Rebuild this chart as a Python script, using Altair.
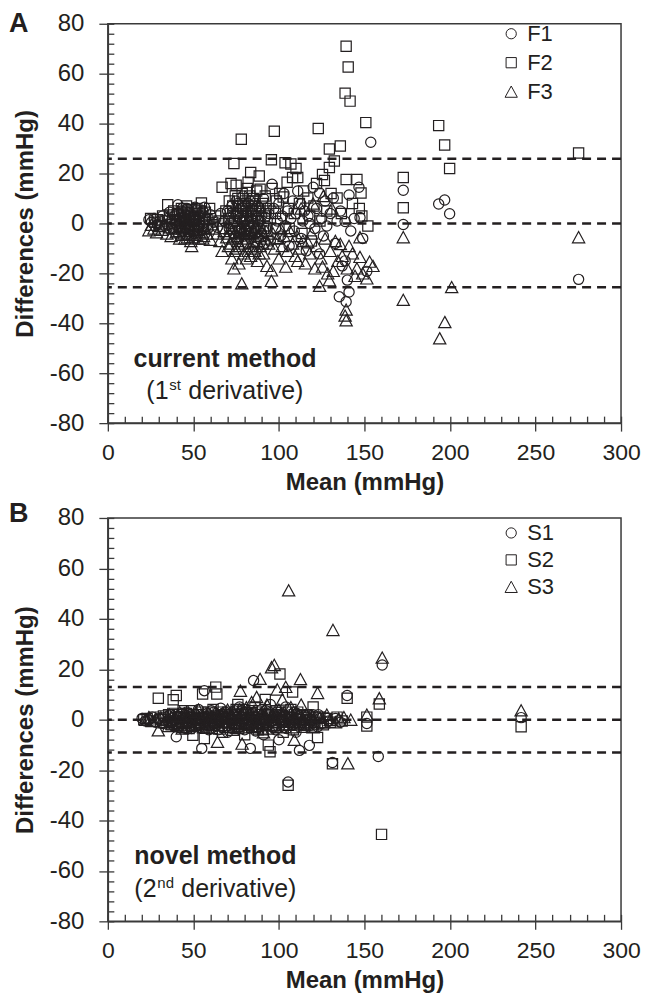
import altair as alt
import pandas as pd

# ---------------- Panel A : current method (1st derivative) ----------------
a_f1 = [
    (24, 1.5), (25.5, 0.5), (27, 2), (29, -0.5), (30.5, 1), (32, 3), (33.5, -1), (35, 2), (36, 4.5), (37, 0),
    (38, -2), (39, 3), (40, 1), (41, 7.5), (41.5, -1), (42.5, 2.5), (43, 5), (44, -3), (44.5, 1), (45.5, 3.5),
    (46, -0.5), (46.5, 6), (47.5, 2), (48, -2.5), (48.5, 4), (49.5, 0.5), (50, 3), (50.5, -4), (51.5, 1.5), (52, 5.5),
    (53, -1.5), (53.5, 2.5), (54.5, 4), (55, -3), (55.5, 0), (56.5, 6.5), (57.5, 1), (58.5, -2), (60, 3.5), (62, 0.5),
    (64, -1.5), (66, 4), (68, 1), (70, 5), (71, -2), (72, 2.5), (72.5, 7), (73.5, -4), (74, 1), (75, 9),
    (75.5, -1), (76, 4), (76.5, -6), (77, 2), (77.5, 6), (78, -2.5), (78.5, 0.5), (79, 11), (79.5, 3), (80, -5),
    (80.5, 7), (81, 1.5), (81.5, -8), (82, 4.5), (82.5, -1), (83, 9), (83.5, 2), (84, -3.5), (84.5, 5.5), (85, 0),
    (86, 8), (86.5, -2), (87, 3), (88, -6), (88.5, 6), (89, 1), (90, -4), (91, 10), (92, 2.5), (93, -1),
    (94, 4), (95, -7), (96, 15.7), (97, 6), (98, -2), (99, 1), (100, 8), (101, -5), (102, 3), (103, 12),
    (104, -1), (105, 5), (106, -9), (107, 2), (108, 9), (109, -3), (110, 4), (111, 13), (112.8, 7.8), (113, -6),
    (114, 1), (115, 5), (116, -11), (117, 3), (118, 0), (120, 14.5), (121, -2), (122, 6), (123.8, 12.2), (123.8, -12.2),
    (125, 2), (126, -5), (127, 9), (128, -1), (130, 4), (131.8, 10.2), (133, -8), (134, 1), (135.3, -29.4), (136, 5),
    (137, -17), (138.7, 0.8), (138.7, -15), (139.3, -31.4), (140, -22.7), (141, 11.4), (141, -27.5), (142, -3), (144, 2), (146.8, 14.5),
    (147.4, 2.4), (149, -6), (151.4, -19.2), (153.7, 32.5), (172.7, 13.3), (172.7, -0.4), (193.4, 7.8), (196.9, 9.4), (199.8, 3.9), (275.2, -22.4),
    (40.5, 4), (42, -2), (43.5, 6), (45, -1.5), (46, 2), (47, 4.5), (49, -1), (50.5, 1), (51, 6.5), (52.5, -3),
    (54, 3), (55.5, 5), (56, -2), (71.5, 0), (73, 4.5), (74.5, -2), (76, 8), (77.5, -4), (79, 6), (80, 1),
    (81, -3), (82, 8), (83.5, -6), (85, 4), (86, -4), (87.5, 7), (89, -2), (90, 3), (91.5, -8),
]
a_f2 = [
    (25, 2), (27.5, 0.5), (29, 1.5), (30, -1), (32, 3), (34, 1), (35, 7.5), (36, 2.5), (37.5, -0.5), (38.5, 5),
    (39.5, 1.5), (40.5, 3.5), (42, -1.5), (43, 6), (43.5, 2), (44.5, 4.5), (45, 0), (46, 7), (47, -2), (47.5, 3),
    (48.5, 1), (49, 5.5), (50, -0.5), (51, 2.5), (52, 6), (52.5, -2.5), (53.5, 1), (54.7, 8.2), (55.5, 3), (56, -1),
    (57, 4.5), (58, 1.5), (59.5, 6), (61, -0.5), (63, 3), (65, 1), (66.8, 14.5), (67.5, -2), (69, 5), (70.5, 2),
    (71, 9), (72, 16), (72.5, -1), (73.7, 24), (74.5, 11), (75, 15.3), (75.5, 4), (76.5, 7), (77, -3), (78, 33.7),
    (78.5, 12), (79, 1), (79.5, 6), (80, -2), (80.5, 9), (81, 3), (81.5, 14), (82, 16.5), (82.5, -4), (83.5, 20.4),
    (84, 7), (84.5, 1), (85, 10), (85.5, -1.5), (86.5, 5), (87, 13), (88, 2), (88.5, 19), (89, 13.7), (89.5, -5),
    (90.5, 8), (91.5, 3), (92, 11), (93, -3), (94, 6), (95.6, 25.5), (96, 14), (97.3, 36.9), (98, 4), (98.5, 9),
    (99.5, -6), (100.5, 12), (101, 2), (102.5, 10.6), (103.6, 24.3), (104.8, 16.5), (105.5, 6), (106, -2), (107, 23.8), (108, 18.4),
    (109, 4), (110, 22), (111, 18.4), (112, 8), (113.5, -4), (114.5, 13), (116.9, 10.2), (118, 3), (119, -7), (120.5, 7),
    (122, 16), (123, 38), (124, 1), (125.5, 19.6), (126.6, 17.2), (128, 5), (129.5, 22.4), (129.5, 29.8), (130.5, 12), (132.4, 25),
    (134, 10.2), (135.9, 31), (136.5, 4), (138.7, 52.2), (139.3, 71), (139.3, 17.6), (140.5, 62.7), (141.6, 49), (143, 8), (145.6, 17.6),
    (147, 6), (148, 12.2), (148.5, 3), (150.8, 40.4), (152, -1), (172.7, 18.4), (172.7, 6.3), (193.4, 39.2), (196.9, 31.4), (199.8, 22),
    (275.2, 28.2),
    (41, 4), (42.5, 1), (44, 3), (45.5, -1), (47, 5), (49.5, 2), (51, 4), (53, -1), (54, 5), (56.5, 2),
    (71.5, 4), (73, 7), (74, 1), (76, 10), (77.5, 3), (79, 8), (80.5, 5), (82, -1), (83, 11), (84, 3),
    (86, 9), (87.5, 1), (89, 6), (91, -2), (92.5, 5),
]
a_f3 = [
    (24, -2.7), (25.5, -0.5), (27, -2), (28.5, -3.5), (30, -1), (31.5, -2.5), (33, 0), (34.5, -4), (36, -1.5), (37, -5),
    (38.5, -2), (40, -3.5), (41, 0.5), (42, -6), (43.5, -2), (44.5, -4), (45.5, -1), (46.5, -5.5), (47.5, -3), (48.5, -7),
    (49, -9), (50, -1.5), (51, -4.5), (52, -2.5), (53, -6), (54, -1), (55, -3.5), (56, -5), (57, -2), (58, -4),
    (60, -6.5), (62, -2), (64, -4), (65.5, -7), (66.8, -11), (68, -3), (69.5, -5.5), (70.5, -9), (71.5, -2), (72.5, -14),
    (73, -6), (73.7, -18), (74.5, -3.5), (75, -10), (76, -7), (76.6, -16), (77.5, -1.5), (78.3, -24), (79, -4), (79.5, -12),
    (80.5, -6), (81, -14), (81.5, -2.5), (82.5, -9), (83.5, -13), (84, -4), (85, -7.5), (86, -11), (86.5, -2), (87.5, -15),
    (88, -5), (89, -9), (90, -3), (91, -12), (92, -6), (93, -17), (94, -8), (95.6, -18.8), (95.6, -23), (96.5, -4),
    (97.5, -10), (99, -6), (100, -14), (101, -2), (102, -9), (103, -5), (104, -17.3), (105, -11), (106.5, -3), (108, -8),
    (109.5, -13), (110.5, -5), (111, -15), (112, -10), (113, 6), (114, -7), (115.5, -16), (116.9, -7.5), (118, -12), (119, -4),
    (120, 8), (121, -18), (122, -9), (123.8, -25), (124.5, -14), (125.5, -17.3), (126, 11), (127, -6), (128.5, -20), (129.5, -22.7),
    (130, -11), (131, 6), (131.8, -19), (133, -7), (134.5, -15), (135.9, -8.2), (137, -13), (138.7, -36.9), (139.3, -34.5), (139.3, -38.8),
    (140, -18), (141, -9), (143, -12), (144.5, -21), (145.6, -18), (147.4, -5.5), (147.4, -13.4), (149, -20), (151.4, -22), (153, -15.3),
    (155, -17), (172.7, -5.5), (172.7, -30.6), (194, -46), (197, -39.5), (201, -25.5), (275.2, -5.5),
    (41.5, -3), (43, -4.5), (44, -1.5), (45, -6), (47, -1), (48, -4), (50, -5.5), (51.5, -2), (53.5, -3.5), (55.5, -6),
    (71, -4), (72, -8), (74, -11), (75.5, -5), (77, -9), (78.5, -3), (80, -8), (81, -4), (82, -11), (84.5, -10),
    (85.5, -3), (87, -7), (88.5, -12), (90.5, -8), (92.5, -3),
]

# ---------------- Panel B : novel method (2nd derivative) ----------------
b_s1 = [
    (20, 0.5), (22, -0.5), (24, 0), (26, 1), (28, -1), (30, 0.5), (32, -1.5), (33.5, 1), (35, -0.5), (36.5, 2),
    (38, -2), (39, 0), (40, -6.8), (41, 1.5), (42, -1), (43, 2.5), (44, -2.5), (45, 0.5), (46, 3), (47, -1),
    (48, 1), (49, -3.5), (50, 0), (51, 2), (52, -1.5), (53, 4), (54, -0.5), (54.9, -11.4), (55.5, 1), (56.4, 11.5),
    (57, -2), (58, 2.5), (59, -4), (60, 0.5), (61, -1), (62, 3), (63, -2.5), (64, 1), (65, -0.5), (66, 4.5),
    (67, -3), (68, 1.5), (69, -1), (70, -5), (71, 2), (72, 0), (73, -1.5), (74, 3.5), (75, -3), (76, 1),
    (77, 5), (78, -1), (79, 2), (80, -4), (81, 0.5), (82, 3), (83.3, -11.4), (84, -2), (85.2, 15.5), (86, 1),
    (87, -3), (88, 2), (89, -1), (90, 4), (91, -6), (92, 0), (93, 2.5), (94, -2), (95, 6), (96, -0.5),
    (97, 1.5), (98, -4), (99, 3), (100, -8), (101, 0), (102, 2), (103, -3), (104, 5), (105.4, -24.7), (106, -1),
    (107, 1), (108, -2), (109, 3), (110, -5), (111, 0.5), (112, -12.2), (113, 2), (114, -1), (116, 1), (117.8, -10.2),
    (119, -0.5), (120, 2), (121, -2), (122.6, -2.8), (124, 0.5), (125, -1.5), (127, 1), (129, -0.5), (131.3, -17), (133, 0.5),
    (136, -1), (139.9, 9.6), (151.4, -1.5), (158.1, -14.6), (160.4, 21.7), (241.6, 0.8),
    (35.5, 1.5), (37.5, -1), (39.5, 2), (41.5, -3), (43.5, 0), (45.5, -1.5), (47.5, 2.5), (49.5, 1), (51.5, -0.5), (53.5, -3),
    (56, 2), (58.5, -1), (60.5, 3.5), (62.5, -1.5), (64.5, -4), (66.5, 0), (68.5, 3), (70.5, 1), (72.5, -3.5), (74.5, 1.5),
    (76.5, -2), (78.5, 3.5), (80.5, -1.5), (82.5, 0), (84.5, 2.5), (86.5, -4.5), (88.5, 0.5), (90.5, -2.5), (92.5, 3.5), (94.5, 0),
    (96.5, -3), (98.5, 1), (100.5, 3), (102.5, -1), (104.5, -3.5), (106.5, 2), (108.5, 0), (110.5, 2.5), (112.5, -2), (115, 0),
    (118, -2.5), (123, 2),
]
b_s2 = [
    (21, 0), (23, 0.5), (25, -0.5), (27, 1), (29.5, 8.5), (31, 0), (32.5, 1.5), (34, -1), (35.5, 2), (37, -2),
    (38.2, 7.9), (39.5, 1), (40, 9.6), (41, -1.5), (42, 2), (43.5, -3), (44.5, 0.5), (46, 2.5), (47, -1), (48, 1),
    (49, 3.5), (49.7, -6.2), (51, 0), (52, -2), (53, 2), (54, -1), (55.4, 10.2), (56.4, -7.5), (57.5, 0.5), (58.5, 3),
    (59.5, -2), (60.5, 1), (61.5, 4), (62.5, -1), (63.1, 12.9), (63.7, 10.2), (65, -2.5), (66, 0.5), (67, -5), (68, 2),
    (69, -1), (70, 3), (71, -3), (72, 0), (73, 1.5), (74, -2), (75, 4), (76, 6), (77, -1.5), (78, 1),
    (79, 4), (80, -6), (81, -0.5), (82, 2), (83, 0), (84, -3), (85, 1), (86, 5), (87, -1), (88, -4),
    (89, 2), (90, 0.5), (91, -2), (92, 8), (93, 1), (93.8, -10.1), (94.8, -12.7), (95.5, 3), (96.5, -1), (97.5, 1),
    (98.5, -3), (99.5, 2), (100.6, 18.1), (101.5, 0), (102.5, -5), (103.5, 1), (104.5, 3), (105.4, -26), (106, -1), (107, 4),
    (108, 11), (109, -2), (110, 0), (111, 3), (112, -1), (113.5, 1), (115, -3), (116, 2), (118, 0), (120, 5),
    (121, -1), (122.6, -7.1), (124, 1), (126, -2), (128, 0.5), (130, -1), (131.3, -17.5), (134, 1), (137, -0.5), (139.9, 8.5),
    (151.4, 1), (151.4, -2.5), (158.7, 6.2), (160, -45.5), (241.6, -2.8),
    (36, -1), (38, 2.5), (40.5, -2.5), (42.5, 1), (44, 3.5), (45.5, -1.5), (47.5, -3.5), (50, 2), (52.5, 0.5), (54.5, 3),
    (57, -2.5), (59, 1), (61, -3.5), (63, 1.5), (64.5, -0.5), (66.5, 3), (68.5, -3), (70.5, 1), (72.5, -1), (74.5, 2.5),
    (76.5, -3.5), (78.5, 0), (80.5, 2.5), (82.5, -2), (84.5, 3.5), (86.5, -1.5), (88.5, 1), (90.5, -4), (92.5, -1), (94, 2),
    (96, -2.5), (98, 3.5), (100, -1), (102, 1.5), (104, -2), (106.5, 1), (108.5, -4), (110.5, 2), (112.5, 0), (114.5, -2),
    (117, 1.5), (119, -3),
]
b_s3 = [
    (22, 0), (24, 1), (26, -0.5), (28, 0.5), (29.5, -4.2), (31, 1), (33, -1), (34.5, 0), (36, 2), (37.5, -1.5),
    (39, 0.5), (40.5, -2), (42, 3), (43, -0.5), (44, 1), (45.5, -3), (46.5, 1.5), (47.5, -1), (48.5, 2), (50, 0),
    (51, -2), (52, 1), (53, 4), (54, -1), (55, 0.5), (56, -3), (57, 1), (58, -1.5), (59, 2.5), (60, 0),
    (61, -2), (62, 1), (63, 3), (64.1, -8.8), (65, -1), (66, 2), (67, 0.5), (68, -2), (69, 1), (70, 4),
    (71, -1), (72, 2), (73, -4), (74, 0), (75, 1.5), (76, -2.5), (77.5, 11.5), (78.5, -9.5), (79, 3), (80, -1),
    (81, 5), (82, -2), (83, 2), (84, 7), (85, -3), (86, 0), (87, 9), (88, -1), (89, 16.2), (90, 3),
    (91, -5), (92, 1), (93, 6), (94, -2), (95.7, 20.8), (96, 2), (97.3, 21.7), (98, -1), (99, 12), (100, 4),
    (101, -3), (102, 8), (103, 0), (104, 13), (105.7, 51.3), (106, -2), (107, 5), (108, 1), (109, -8), (110, 3),
    (111, -1), (112.6, 16.1), (113, 6), (114, -1), (115, -2), (116, 2), (117, -1), (118, 0.5), (120, -3), (121, 1),
    (122.6, 10.6), (124, 1), (125, -1), (126, -1), (128, 2), (130, 0), (131.6, 35.6), (133, -1), (135, 0.5), (138, 1),
    (140.3, -17.3), (142, 0), (151.4, 2), (158.7, 8.5), (160.4, 24.6), (241.6, 3.7),
    (35.5, -2.5), (37, 1), (38.5, -0.5), (41, 1.5), (43.5, -3.5), (45, 2.5), (47, 0), (49.5, -2.5), (51.5, 3), (53.5, -1.5),
    (55.5, 2), (57.5, -3), (59.5, 0.5), (61.5, -1), (63.5, 2), (65.5, -3.5), (67.5, 2.5), (69.5, -1), (71.5, 0.5), (73.5, 3),
    (75.5, -1), (77, 4), (79.5, -3), (81.5, 1), (83.5, -1.5), (85.5, 3.5), (87.5, -2.5), (89.5, 0), (91.5, 2.5), (93.5, -3.5),
    (95, 0.5), (97, -2), (99, 1.5), (101, 0), (103, 3), (105, 1), (107.5, -3), (109.5, 0.5), (111.5, 2), (114, 0),
    (116.5, -1.5), (119.5, 1.5),
]

series_a = ["F1", "F2", "F3"]
series_b = ["S1", "S2", "S3"]
limits_a = [25.9, 0.0, -25.6]   # upper LoA, mean bias, lower LoA
limits_b = [13.0, 0.0, -13.0]
x_major = [0, 50, 100, 150, 200, 250, 300]
y_major = [-80, -60, -40, -20, 0, 20, 40, 60, 80]
x_minor = list(range(0, 301, 10))
y_minor = list(range(-80, 81, 4))

INK = "#231f20"
LINE = "#3a3a3a"
FONT = "Liberation Sans"
TRI = "M0,-1.1L1.2,1.1L-1.2,1.1Z"
PLAIN = "'' + datum.value"
PLOT_W = 514


def to_frame(groups, names):
    rows = []
    for pts, name in zip(groups, names):
        for x, y in pts:
            rows.append({"mean": x, "diff": y, "series": name})
    return pd.DataFrame(rows)


def panel(groups, names, limits, letter, method, num, sup, sup_w,
          method_x, deriv_x, height, legend_y, legend_gap, letter_y):
    df = to_frame(groups, names)
    xs = alt.Scale(domain=[0, 300], nice=False, zero=False)
    ys = alt.Scale(domain=[-80, 80], nice=False, zero=False)

    minor = alt.Chart(df).mark_point(opacity=0, size=1).encode(
        x=alt.X("mean:Q", scale=xs, axis=alt.Axis(orient="bottom", values=x_minor, labels=False,
                                                   domain=False, title=None, tickSize=7, offset=-7)),
        y=alt.Y("diff:Q", scale=ys, axis=alt.Axis(orient="left", values=y_minor, labels=False,
                                                   domain=False, title=None, tickSize=6, offset=-6)),
    )
    rules = alt.Chart(pd.DataFrame({"limit": limits})).mark_rule(
        strokeDash=[9, 6], strokeWidth=2.5, color=INK
    ).encode(y=alt.Y("limit:Q", scale=ys, axis=None))

    pts = alt.Chart(df).mark_point(filled=False, size=105, strokeWidth=1.2, color=INK, opacity=1).encode(
        x=alt.X("mean:Q", scale=xs, axis=alt.Axis(orient="bottom", values=x_major, title="Mean (mmHg)",
                                                   tickSize=8, labelPadding=10, titlePadding=6, labelFontSize=23,
                                                   labelFlush=False, labelExpr=PLAIN)),
        y=alt.Y("diff:Q", scale=ys, axis=alt.Axis(orient="left", values=y_major, title="Differences (mmHg)",
                                                   tickSize=9, labelPadding=15, titlePadding=12,
                                                   labelFlush=False, labelExpr=PLAIN)),
        shape=alt.Shape("series:N", scale=alt.Scale(domain=names, range=["circle", "square", TRI]),
                        legend=alt.Legend(title=None, orient="none", legendX=393, legendY=legend_y,
                                          labelFontSize=22, labelColor=INK, labelFont=FONT,
                                          symbolSize=105, symbolStrokeWidth=1, symbolStrokeColor=INK,
                                          labelOffset=5, rowPadding=legend_gap, padding=0)),
    )

    ann = pd.DataFrame({"x": [method_x], "y": [-54.2], "t": [method]})
    t_method = alt.Chart(ann).mark_text(align="left", baseline="middle", fontSize=25, fontWeight="bold",
                                        color=INK, font=FONT).encode(
        x=alt.X("x:Q", scale=xs, axis=None), y=alt.Y("y:Q", scale=ys, axis=None), text="t:N")

    der = pd.DataFrame({"x": [deriv_x], "y": [-67.0], "a": ["(" + num], "b": [sup], "c": ["derivative)"]})
    base = alt.Chart(der)
    t_a = base.mark_text(align="left", baseline="middle", fontSize=25, color=INK, font=FONT).encode(
        x=alt.X("x:Q", scale=xs, axis=None), y=alt.Y("y:Q", scale=ys, axis=None), text="a:N")
    t_b = base.mark_text(align="left", baseline="middle", fontSize=15, color=INK, font=FONT, dx=23, dy=-6).encode(
        x=alt.X("x:Q", scale=xs, axis=None), y=alt.Y("y:Q", scale=ys, axis=None), text="b:N")
    t_c = base.mark_text(align="left", baseline="middle", fontSize=25, color=INK, font=FONT, dx=30 + sup_w).encode(
        x=alt.X("x:Q", scale=xs, axis=None), y=alt.Y("y:Q", scale=ys, axis=None), text="c:N")

    t_letter = alt.Chart(pd.DataFrame({"t": [letter]})).mark_text(
        align="left", baseline="top", fontSize=27, fontWeight="bold", color=INK, font=FONT
    ).encode(text="t:N", x=alt.value(-99), y=alt.value(letter_y))

    return alt.layer(minor, rules, pts, t_method, t_a, t_b, t_c, t_letter).resolve_axis(
        x="independent", y="independent"
    ).properties(width=PLOT_W, height=height)


panel_a = panel([a_f1, a_f2, a_f3], series_a, limits_a, "A", "current method", "1", "st", 12,
                15.0, 22.5, 400, -1, 7, -13)
panel_b = panel([b_s1, b_s2, b_s3], series_b, limits_b, "B", "novel method", "2", "nd", 17,
                15.5, 15.5, 404, 4, 5, -17)

chart = alt.vconcat(panel_a, panel_b, spacing=4).resolve_scale(shape="independent").properties(
    padding=0
).configure(
    font=FONT
).configure_axis(
    domainColor=LINE, domainWidth=1.5, tickColor=LINE, tickWidth=1.3, labelColor=INK, labelFontSize=24,
    labelFont=FONT, titleFont=FONT, titleFontSize=24, titleFontWeight="bold", titleColor=INK, grid=False
).configure_view(stroke=LINE, strokeWidth=1.5)

chart.save("out.html", embed_options={"renderer": "svg", "actions": False})
